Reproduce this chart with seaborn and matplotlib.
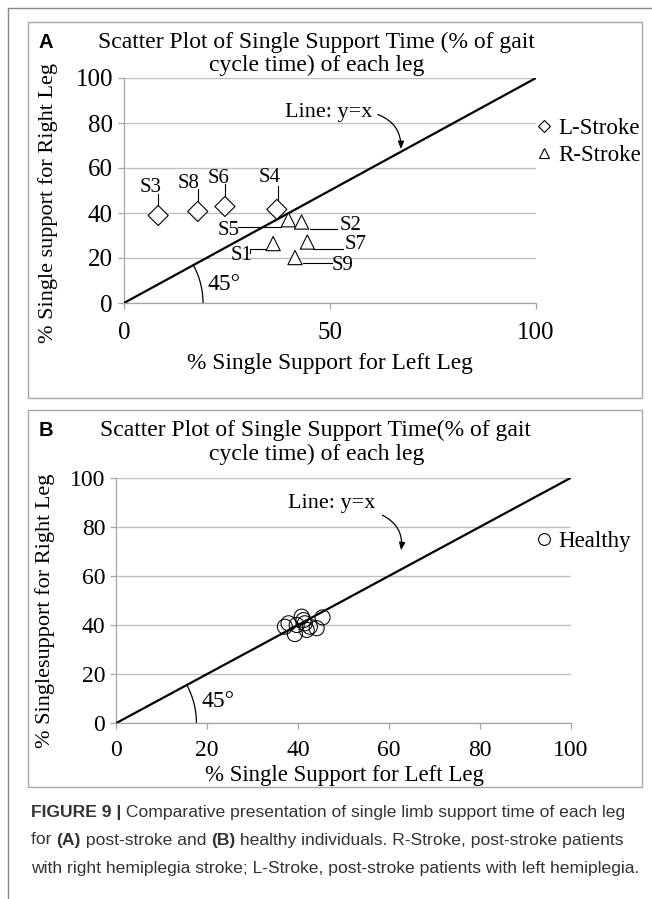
import matplotlib
matplotlib.use("Agg")
import numpy as np
import pandas as pd
import matplotlib.pyplot as plt
from matplotlib.lines import Line2D
from matplotlib.patches import Rectangle
import seaborn as sns

W, H = 652, 899
SERIF = ["Liberation Serif", "DejaVu Serif"]
SANS = ["Liberation Sans", "DejaVu Sans"]

# ---------------- data ----------------
l_stroke_ids = ["S3", "S8", "S6", "S4"]
l_stroke_left = [8.3, 17.9, 24.5, 37.1]
l_stroke_right = [38.9, 40.7, 42.9, 41.6]
r_stroke_ids = ["S5", "S2", "S1", "S7", "S9"]
r_stroke_left = [39.9, 43.1, 36.2, 44.5, 41.5]
r_stroke_right = [37.0, 36.0, 26.4, 27.1, 20.2]
healthy_left = [37.1, 37.9, 39.3, 40.8, 41.2, 41.5, 42.6, 44.1, 45.4, 39.7, 41.9]
healthy_right = [39.3, 40.7, 36.3, 43.4, 42.0, 40.7, 39.3, 38.7, 43.1, 40.0, 38.0]
identity_x = [0, 100]
identity_y = [0, 100]
xticks_a = [0, 50, 100]
xticks_b = [0, 20, 40, 60, 80, 100]
yticks = [0, 20, 40, 60, 80, 100]

# annotation positions (data units) for the subject labels
label_pos = {"S3": (6.5, 51.5), "S8": (15.6, 53.0), "S6": (22.9, 55.2), "S4": (35.3, 55.6),
             "S5": (25.3, 32.3), "S2": (55.0, 34.5), "S1": (28.6, 21.2), "S7": (56.1, 26.1),
             "S9": (53.1, 16.8)}
leader_pos = {"S3": ([8.3, 8.3], [48.5, 42.6]), "S8": ([17.9, 17.9], [50.7, 44.4]),
              "S6": ([24.5, 24.5], [53.0, 46.6]), "S4": ([37.3, 37.3], [52.2, 45.3]),
              "S5": ([27.7, 38.2], [33.8, 33.8]), "S2": ([45.1, 51.6], [32.9, 32.9]),
              "S1": ([30.6, 30.6, 34.6], [22.4, 23.9, 23.9]), "S7": ([45.9, 53.1], [24.2, 24.2]),
              "S9": ([43.4, 50.4], [17.6, 17.6])}

df_a = pd.DataFrame({
    "left": l_stroke_left + r_stroke_left,
    "right": l_stroke_right + r_stroke_right,
    "group": ["L-Stroke"] * len(l_stroke_left) + ["R-Stroke"] * len(r_stroke_left),
})
df_b = pd.DataFrame({"left": healthy_left, "right": healthy_right, "group": "Healthy"})

fig = plt.figure(figsize=(W / 100, H / 100), dpi=100)
fig.patch.set_facecolor("white")


def fx(x):
    return x / W


def fy(y):
    return 1 - y / H


def axes_px(l, t, r, b):
    return fig.add_axes([fx(l), fy(b), (r - l) / W, (b - t) / H])


# frames
fig.add_artist(Line2D([fx(8), fx(652)], [fy(8), fy(8)], color="#8a8a8a", lw=1.0))
fig.add_artist(Line2D([fx(8), fx(8)], [fy(8), fy(899)], color="#8a8a8a", lw=1.0))
for (t, b) in [(22, 398), (410, 787)]:
    fig.add_artist(Rectangle((fx(28), fy(b)), (642 - 28) / W, (b - t) / H, fill=False,
                             edgecolor="#a8a8a8", lw=1.0, transform=fig.transFigure))

TITLE_FS = 17
LABEL_FS = 16.8
YLABEL_FS = 16
ANN_FS = 16
LEG_FS = 16.5


def style_axes(ax, xticks, xpad, tick_fs):
    ax.set_xlim(0, 100)
    ax.set_ylim(0, 100)
    ax.set_xticks(xticks)
    ax.set_yticks(yticks)
    for s in ["top", "right"]:
        ax.spines[s].set_visible(False)
    ax.spines["left"].set_color("#a6a6a6")
    ax.spines["bottom"].set_color("#a6a6a6")
    ax.spines["left"].set_linewidth(0.9)
    ax.spines["bottom"].set_linewidth(0.9)
    ax.yaxis.grid(True, color="#bfbfbf", lw=1.0)
    ax.xaxis.grid(False)
    ax.set_axisbelow(True)
    ax.tick_params(axis="x", direction="out", length=4.5, width=0.9, color="#a6a6a6",
                   labelsize=tick_fs, pad=xpad)
    ax.tick_params(axis="y", direction="out", length=4, width=0.9, color="#a6a6a6",
                   labelsize=tick_fs, pad=4)
    for lab in ax.get_xticklabels() + ax.get_yticklabels():
        lab.set_family(SERIF)
    ax.set_facecolor("white")


def draw_arc(ax, r_px, l, t, r, b):
    sx = (r - l) / 100.0
    sy = (b - t) / 100.0
    alpha = np.arctan(sy / sx)
    tt = np.linspace(0, alpha, 60)
    ax.plot(r_px * np.cos(tt) / sx, r_px * np.sin(tt) / sy, color="black", lw=0.9)


# ---------------- panel A ----------------
LA, TA, RA, BA = 124, 78, 536, 303
axA = axes_px(LA, TA, RA, BA)
style_axes(axA, xticks_a, 9.0, 18)
axA.plot(identity_x, identity_y, color="black", lw=1.6, zorder=3)
sns.scatterplot(data=df_a, x="left", y="right", style="group",
                markers={"L-Stroke": "D", "R-Stroke": "^"}, s=105,
                facecolors="white", edgecolor="black", linewidth=0.8,
                legend=False, ax=axA, zorder=4, clip_on=False)
for sid in l_stroke_ids + r_stroke_ids:
    tx, ty = label_pos[sid]
    axA.text(tx, ty, sid, ha="center", va="center", fontsize=15, family=SERIF, zorder=5)
    lx, ly = leader_pos[sid]
    axA.plot(lx, ly, color="black", lw=0.8, zorder=2)
axA.text(49.6, 84.6, "Line: y=x", ha="center", va="center", fontsize=ANN_FS, family=SERIF)
axA.annotate("", xy=(67.2, 68.4), xytext=(61.6, 83.8),
             arrowprops=dict(arrowstyle="-|>,head_length=0.45,head_width=0.18",
                             connectionstyle="arc3,rad=-0.35", color="black", lw=0.9,
                             shrinkA=0, shrinkB=0))
draw_arc(axA, 79, LA, TA, RA, BA)
axA.text(24.2, 8.3, "45°", ha="center", va="center", fontsize=17, family=SERIF)
axA.set_xlabel("% Single Support for Left Leg", fontsize=LABEL_FS, family=SERIF)
axA.set_ylabel("% Single support for Right Leg", fontsize=YLABEL_FS, family=SERIF)
axA.xaxis.set_label_coords((330 - LA) / (RA - LA), (BA - 363) / (BA - TA))
axA.xaxis.label.set_va("center")
axA.yaxis.set_label_coords((48 - LA) / (RA - LA), (BA - 203) / (BA - TA))
axA.yaxis.label.set_va("center")
handlesA = [Line2D([], [], ls="none", marker="D", ms=6.3, mfc="white", mec="black", mew=0.8),
            Line2D([], [], ls="none", marker="^", ms=7.8, mfc="white", mec="black", mew=0.8)]
fig.legend(handlesA, ["L-Stroke", "R-Stroke"], loc="upper left",
           bbox_to_anchor=(fx(533), fy(118)), bbox_transform=fig.transFigure,
           frameon=False, prop={"family": SERIF, "size": LEG_FS}, handlelength=1.0,
           handletextpad=0.12, labelspacing=0.25, borderpad=0, borderaxespad=0)

fig.text(fx(46), fy(42), "A", ha="center", va="center", fontsize=14.5, fontweight="bold",
         family=SANS)
fig.text(fx(316), fy(42), "Scatter Plot of Single Support Time (% of gait", ha="center",
         va="center", fontsize=TITLE_FS, family=SERIF)
fig.text(fx(317), fy(65), "cycle time) of each leg", ha="center", va="center",
         fontsize=TITLE_FS, family=SERIF)

# ---------------- panel B ----------------
LB, TB, RB, BB = 116.4, 478, 570.5, 723
axB = axes_px(LB, TB, RB, BB)
style_axes(axB, xticks_b, 8.0, 17)
axB.plot(identity_x, identity_y, color="black", lw=1.6, zorder=3)
sns.scatterplot(data=df_b, x="left", y="right", marker="o", s=118,
                facecolors="none", edgecolor="black", linewidth=0.75,
                legend=False, ax=axB, zorder=4)
axB.text(47.3, 89.5, "Line: y=x", ha="center", va="center", fontsize=ANN_FS, family=SERIF)
axB.annotate("", xy=(62.7, 70.5), xytext=(58.6, 84.8),
             arrowprops=dict(arrowstyle="-|>,head_length=0.45,head_width=0.18",
                             connectionstyle="arc3,rad=-0.35", color="black", lw=0.9,
                             shrinkA=0, shrinkB=0))
draw_arc(axB, 80, LB, TB, RB, BB)
axB.text(22.4, 8.6, "45°", ha="center", va="center", fontsize=17, family=SERIF)
axB.set_xlabel("% Single Support for Left Leg", fontsize=16.5, family=SERIF)
axB.set_ylabel("% Singlesupport for Right Leg", fontsize=YLABEL_FS, family=SERIF)
axB.xaxis.set_label_coords((344 - LB) / (RB - LB), (BB - 776) / (BB - TB))
axB.xaxis.label.set_va("center")
axB.yaxis.set_label_coords((45 - LB) / (RB - LB), (BB - 611) / (BB - TB))
axB.yaxis.label.set_va("center")
handlesB = [Line2D([], [], ls="none", marker="o", ms=8.5, mfc="none", mec="black", mew=0.8)]
fig.legend(handlesB, ["Healthy"], loc="upper left",
           bbox_to_anchor=(fx(533), fy(531)), bbox_transform=fig.transFigure,
           frameon=False, prop={"family": SERIF, "size": LEG_FS}, handlelength=1.0,
           handletextpad=0.12, borderpad=0, borderaxespad=0)

fig.text(fx(46), fy(430), "B", ha="center", va="center", fontsize=14.5, fontweight="bold",
         family=SANS)
fig.text(fx(316), fy(430), "Scatter Plot of Single Support Time(% of gait", ha="center",
         va="center", fontsize=TITLE_FS, family=SERIF)
fig.text(fx(317), fy(454), "cycle time) of each leg", ha="center", va="center",
         fontsize=TITLE_FS, family=SERIF)

# ---------------- caption ----------------
caption_lines = [
    [("FIGURE 9 |", "bold"), (" Comparative presentation of single limb support time of each leg", "normal")],
    [("for ", "normal"), ("(A)", "bold"), (" post-stroke and ", "normal"), ("(B)", "bold"),
     (" healthy individuals. R-Stroke, post-stroke patients", "normal")],
    [("with right hemiplegia stroke; L-Stroke, post-stroke patients with left hemiplegia.", "normal")],
]
caption_y = [812, 840, 868]
fig.canvas.draw()
renderer = fig.canvas.get_renderer()
for pieces, yy in zip(caption_lines, caption_y):
    xpix = 31.0
    for txt, wt in pieces:
        t = fig.text(fx(xpix), fy(yy), txt, ha="left", va="center", fontsize=12.6,
                     fontweight=wt, family=SANS, color="#333333")
        bb = t.get_window_extent(renderer=renderer)
        xpix += bb.width

fig.savefig("out.png", dpi=100, facecolor="white")
